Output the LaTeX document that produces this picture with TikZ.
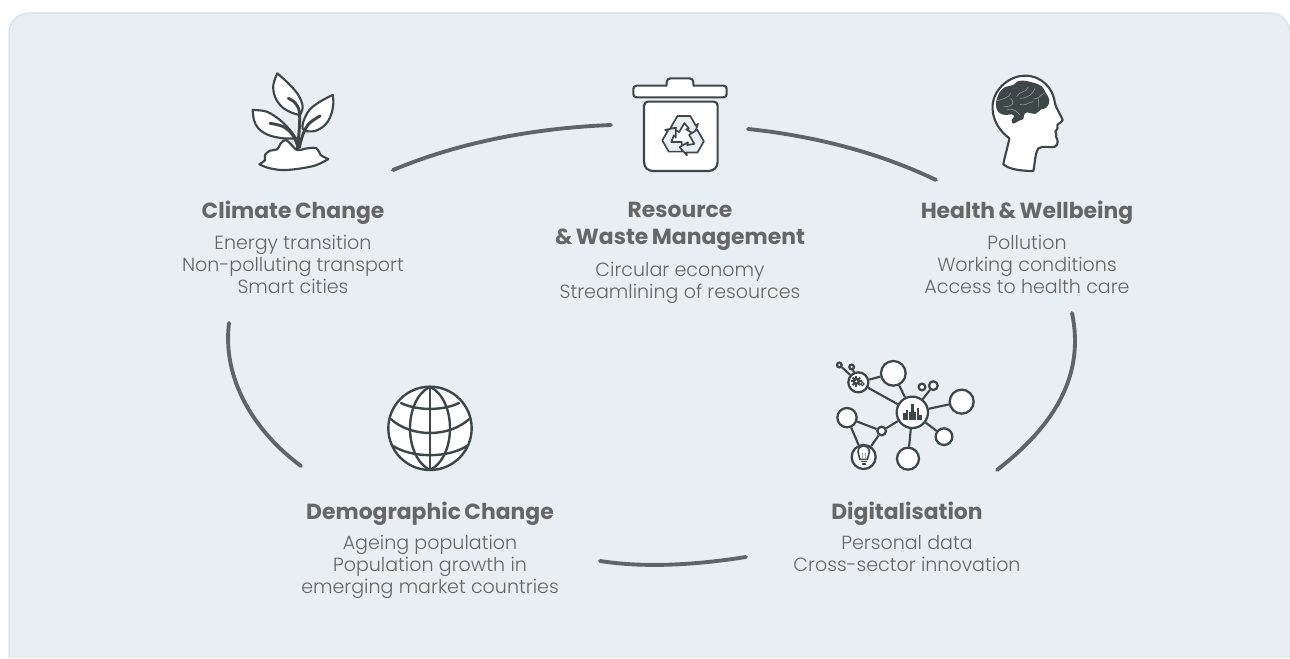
\documentclass[tikz,border=0pt]{standalone}
\usepackage{fontspec}
\setmainfont{Poppins}
\newfontfamily\headf[WordSpace=0.75]{Poppins Bold}
\newfontfamily\bodyf{Poppins Light}
\definecolor{panel}{HTML}{E9EEF3}
\definecolor{edge}{HTML}{D6E3EA}
\definecolor{ink}{HTML}{3D4747}
\definecolor{txt}{HTML}{666666}
\definecolor{arc}{HTML}{5F6566}
\tikzset{
 heading/.style={font=\headf\fontsize{16.4}{20.25}\selectfont,text=txt,align=center,inner sep=0pt},
 bodytext/.style={font=\bodyf\fontsize{14.3}{16.5}\selectfont,text=txt,align=center,inner sep=0pt},
 ring/.style={line width=2.9pt,draw=arc,line cap=round},
 icon/.style={draw=ink,line width=1.6pt,fill=white,line join=round},
 vein/.style={draw=ink,line width=2.2pt,line cap=round},
 dot/.style={circle,draw=ink,line width=1.7pt,fill=white,inner sep=0pt},
 link/.style={draw=ink,line width=1.6pt},
 globeline/.style={draw=ink,line width=1.8pt},
}
\begin{document}
\begin{tikzpicture}[x=0.75pt,y=-0.75pt]
\useasboundingbox (0,0) rectangle (1290,659);
\fill[white] (0,0) rectangle (1290,659);
\begin{scope}
\clip (0,0) rectangle (1290,657);
\draw[fill=panel,draw=edge,line width=1pt,rounded corners=15pt] (9,13) rectangle (1290,700);
\end{scope}
% arcs
\coordinate (a1s) at (393,170); \coordinate (a1e) at (611,125);
\coordinate (a2s) at (748,129); \coordinate (a2e) at (936,180);
\coordinate (a3s) at (1072,313); \coordinate (a3e) at (997,470);
\coordinate (a4s) at (746,557); \coordinate (a4e) at (600,561);
\coordinate (a5s) at (229,323); \coordinate (a5e) at (301,466);
\draw[ring] (a1s) .. controls (460,142) and (535,128) .. (a1e);
\draw[ring] (a2s) .. controls (815,136) and (880,153) .. (a2e);
\draw[ring] (a3s) .. controls (1085,375) and (1055,425) .. (a3e);
\draw[ring] (a4s) .. controls (695,565) and (645,568) .. (a4e);
\draw[ring] (a5s) .. controls (222,380) and (255,432) .. (a5e);
% texts
\node[heading] (h1) at (293,213) {Climate Change};
\node[bodytext] (b1) at (293,264) {Energy transition\\Non-polluting transport\\Smart cities};
\node[heading] (h2) at (680,226.5) {Resource\\\& Waste Management};
\node[bodytext] (b2) at (680,282.5) {Circular economy\\Streamlining of resources};
\node[heading] (h3) at (1027,213) {Health \& Wellbeing};
\node[bodytext] (b3) at (1027,264) {Pollution\\Working conditions\\Access to health care};
\node[heading] (h4) at (430,514) {Demographic Change};
\node[bodytext] (b4) at (430,567) {Ageing population\\Population growth in\\emerging market countries};
\node[heading] (h5) at (907,514) {Digitalisation};
\node[bodytext] (b5) at (907,554) {Personal data\\Cross-sector innovation};
% plant
\begin{scope}[shift={(220,60)},x=0.25pt,y=-0.25pt]
\path[icon] plot[smooth,tension=0.6] coordinates {(172,40) (205,70) (235,105) (248,140) (240,165)} -- plot[smooth,tension=0.6] coordinates {(240,165) (215,158) (185,140) (165,110) (160,75) (172,40)} -- cycle;
\path[icon] plot[smooth,tension=0.6] coordinates {(338,105) (300,125) (268,150) (250,185) (248,205) (255,213)} -- plot[smooth,tension=0.6] coordinates {(255,213) (285,213) (315,195) (333,165) (340,130) (338,105)} -- cycle;
\path[icon] plot[smooth,tension=0.6] coordinates {(98,150) (140,155) (180,180) (210,210) (228,235)} -- plot[smooth,tension=0.6] coordinates {(228,235) (190,235) (145,225) (115,205) (102,180) (98,150)} -- cycle;
\path[icon] plot[smooth,tension=0.6] coordinates {(118,313) (135,300) (135,285) (150,272) (172,268) (182,250) (197,240) (212,252) (232,270) (262,265) (290,265) (302,285) (325,297)} -- plot[smooth,tension=0.6] coordinates {(325,297) (280,318) (200,330) (150,325) (118,313)} -- cycle;
\draw[vein] plot[smooth,tension=0.6] coordinates {(205,115) (225,128) (238,155) (238,205) (232,268)};
\draw[vein] plot[smooth,tension=0.6] coordinates {(300,168) (268,190) (250,220) (238,262)};
\draw[vein] plot[smooth,tension=0.6] coordinates {(150,190) (190,200) (218,225) (232,255)};
\end{scope}
% bin
\begin{scope}[shift={(610,65)},x=0.25pt,y=-0.25pt]
\path[icon] (170,62) -- (170,52) .. controls (170,44) and (175,40) .. (182,40) -- (238,40) .. controls (245,40) and (250,44) .. (250,52) -- (250,62) -- (340,62) .. controls (347,62) and (350,66) .. (350,72) -- (350,87) .. controls (350,94) and (346,97) .. (340,97) -- (80,97) .. controls (74,97) and (70,94) .. (70,87) -- (70,72) .. controls (70,66) and (74,62) .. (80,62) -- cycle;
\path[icon] (102,122) .. controls (102,115) and (107,110) .. (114,110) -- (311,110) .. controls (318,110) and (323,115) .. (323,122) -- (323,290) .. controls (323,308) and (310,318) .. (295,318) -- (130,318) .. controls (114,318) and (102,308) .. (102,290) -- cycle;
\foreach \r in {0,120,240}{
\begin{scope}[shift={(220,214)},rotate=\r,scale=1.05]
\path[icon,fill=panel,line width=1.25pt] (-36,-25) -- (-17,-58) -- (20,-58) -- (36,-30) -- (42,-36) -- (32,-6) -- (8,-20) -- (16,-22) -- (3,-38) -- (-12,-12) -- cycle;
\end{scope}}
\end{scope}
% head
\begin{scope}[shift={(970,65)},x=0.25pt,y=-0.25pt]
\path[icon] (100,298) .. controls (105,270) and (115,240) .. (118,220) .. controls (85,195) and (65,160) .. (68,120) .. controls (72,70) and (120,32) .. (165,32) .. controls (215,32) and (250,70) .. (255,115) .. controls (258,130) and (275,155) .. (278,165) .. controls (275,172) and (262,178) .. (262,180) .. controls (265,185) and (262,195) .. (256,200) .. controls (262,205) and (258,212) .. (258,215) .. controls (265,225) and (265,240) .. (255,245) .. controls (240,250) and (220,240) .. (205,250) .. controls (195,265) and (195,295) .. (190,318) .. controls (160,318) and (120,315) .. (100,298) -- cycle;
\fill[ink] plot[smooth cycle,tension=0.7] coordinates {(78,112) (88,83) (106,66) (130,60) (145,48) (170,48) (190,53) (214,63) (227,83) (238,105) (230,127) (212,134) (195,147) (172,142) (162,150) (160,162) (147,167) (130,176) (125,165) (132,155) (125,148) (105,150) (86,142) (78,125)};
\draw[white!45!ink,line width=0.45pt] (80,108) .. controls (100,100) and (115,100) .. (122,85) (122,100) .. controls (135,115) and (130,125) .. (100,125) (140,95) .. controls (150,75) and (170,85) .. (175,65) (150,100) .. controls (175,100) and (190,85) .. (195,70) (190,100) .. controls (205,105) and (210,90) .. (222,85) (150,118) .. controls (170,125) and (175,110) .. (190,110) (205,125) -- (205,100) (110,135) .. controls (130,125) and (145,145) .. (150,150);
\end{scope}
% network
\begin{scope}[shift={(825,355)},x=0.25pt,y=-0.25pt]
\node[dot,minimum size=23.5pt] (nc) at (262,172) {};
\node[dot,minimum size=18.5pt] (n1) at (205,55) {};
\node[dot,minimum size=18pt] (n2) at (410,140) {};
\node[dot,minimum size=12.5pt] (n3) at (357,245) {};
\node[dot,minimum size=16.5pt] (n4) at (249,311) {};
\node[dot,minimum size=14.5pt] (n5) at (66,188) {};
\node[dot,minimum size=18pt] (nb) at (116,306) {};
\node[dot,minimum size=6.5pt] (n6) at (170,228) {};
\node[dot,minimum size=15pt] (ng) at (100,82) {};
\node[dot,minimum size=5pt] (n7) at (291,96) {};
\node[dot,minimum size=6.5pt] (n8) at (325,92) {};
\node[dot,minimum size=3.5pt] (n9) at (43,30) {};
\node[dot,minimum size=3.5pt] (n10) at (80,36) {};
\draw[link] (nc) -- (n1);
\draw[link] (nc) -- (n2);
\draw[link] (nc) -- (n3);
\draw[link] (nc) -- (n4);
\draw[link] (nc) -- (ng);
\draw[link] (nc) -- (n6);
\draw[link] (nc) -- (n8);
\draw[link] (ng) -- (n1);
\draw[link] (ng) -- (n9);
\draw[link] (ng) -- (n10);
\draw[link] (n5) -- (n6);
\draw[link] (n5) -- (nb);
\draw[link] (n6) -- (nb);
% bars
\foreach \bx/\by in {239/175,247/165,255/172,263/147,271/170,279/158,287/180}
  \fill[ink] (\bx-4,195) rectangle (\bx+3,\by);
% gear
\fill[ink] (94,79) circle (11);
\foreach \a in {0,45,...,315} \draw[ink,line width=1.5pt] (94,79)++(\a:8) -- ++(\a:8);
\fill[white] (94,79) circle (3.5);
\draw[ink,line width=0.8pt] (112,87) circle (5.5);
% bulb
\draw[ink,line width=1.2pt,fill=white] (105,313) .. controls (105,305) and (99,302) .. (99,291) .. controls (99,266) and (133,266) .. (133,291) .. controls (133,302) and (127,305) .. (127,313) -- cycle;
\draw[ink,line width=1.2pt] (107,320) -- (125,320) (110,327) -- (122,327);
\draw[ink!50,line width=0.5pt] (111,310) -- (111,295) (121,310) -- (121,295);
\end{scope}
% globe
\begin{scope}[shift={(375,375)},x=0.25pt,y=-0.25pt]
\path[globeline,fill=white] (165,160) circle (125);
\draw[globeline] (165,35) -- (165,285);
\draw[globeline] (165,35) .. controls (85,75) and (85,245) .. (165,285);
\draw[globeline] (165,35) .. controls (245,75) and (245,245) .. (165,285);
\draw[globeline] (76,83) .. controls (125,108) and (205,108) .. (254,83);
\draw[globeline] (47,132) .. controls (110,188) and (220,188) .. (283,132);
\draw[globeline] (53,212) .. controls (110,250) and (220,250) .. (277,212);
\end{scope}
\end{tikzpicture}
\end{document}
